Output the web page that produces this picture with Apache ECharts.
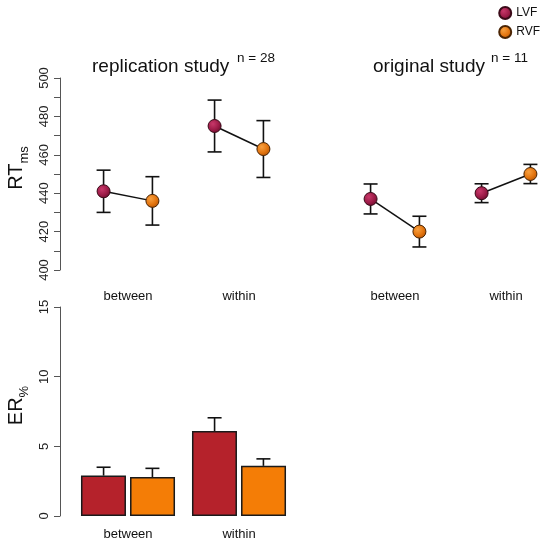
<!DOCTYPE html>
<html>
<head>
<meta charset="utf-8">
<script src="https://cdn.jsdelivr.net/npm/echarts@6/dist/echarts.min.js"></script>
<style>
html,body{margin:0;padding:0;background:#fff;}
#chart{width:540px;height:541px;}
</style>
</head>
<body>
<div id="chart"></div>
<script>
// ---- data ----
const categories = ['between', 'within'];
const conditions = ['LVF', 'RVF'];

// replication study RT (ms): means and error half-widths
const repRT_LVF = [441, 475];
const repRT_LVF_err = [11, 13.5];
const repRT_RVF = [436, 463];
const repRT_RVF_err = [12.6, 14.8];

// original study RT (ms)
const origRT_LVF = [437, 440];
const origRT_LVF_err = [7.8, 4.9];
const origRT_RVF = [420, 450];
const origRT_RVF_err = [8, 5];

// replication study error rates (%)
const repER_LVF = [2.9, 6.1];
const repER_LVF_err = [0.6, 0.95];
const repER_RVF = [2.8, 3.6];
const repER_RVF_err = [0.62, 0.5];

const rtTitles = ['replication study', 'original study'];
const rtN = ['n = 28', 'n = 11'];

// ---- styles ----
const FONT = "'Liberation Sans', Arial, Helvetica, sans-serif";
const OFF = 0.22; // fraction of category band
const lvfPoint = new echarts.graphic.RadialGradient(0.38, 0.35, 0.7, [
  {offset: 0, color: '#c8386a'}, {offset: 0.6, color: '#9c1b47'}, {offset: 1, color: '#6a0c2c'}
]);
const rvfPoint = new echarts.graphic.RadialGradient(0.38, 0.35, 0.7, [
  {offset: 0, color: '#f7a040'}, {offset: 0.6, color: '#e3740e'}, {offset: 1, color: '#b45404'}
]);
const lvfBorder = '#3a0a18';
const rvfBorder = '#4a2404';
const barLVF = '#b5222b';
const barRVF = '#f47d06';

function pointSeries(name, idx, vals, errs, sign, fill, border) {
  return {
    type: 'custom', name: name, xAxisIndex: idx, yAxisIndex: idx, z: 3,
    itemStyle: {color: fill, borderColor: border, borderWidth: 1},
    encode: {x: 0, y: 1},
    data: vals.map((v, i) => [i, v, errs[i]]),
    renderItem: function (params, api) {
      const i = api.value(0), v = api.value(1), e = api.value(2);
      const band = api.size([1, 0])[0];
      const c = api.coord([i, v]);
      const x = c[0] + sign * OFF * band;
      const top = api.coord([i, v + e])[1];
      const bot = api.coord([i, v - e])[1];
      const cap = 7;
      const ls = {stroke: '#111', lineWidth: 1.6};
      return {type: 'group', children: [
        {type: 'line', shape: {x1: x, y1: top, x2: x, y2: bot}, style: ls},
        {type: 'line', shape: {x1: x - cap, y1: top, x2: x + cap, y2: top}, style: ls},
        {type: 'line', shape: {x1: x - cap, y1: bot, x2: x + cap, y2: bot}, style: ls},
        {type: 'circle', shape: {cx: x, cy: c[1], r: 6.5}, style: {fill: fill, stroke: border, lineWidth: 1}}
      ]};
    }
  };
}

function connectSeries(idx, left, right) {
  return {
    type: 'custom', xAxisIndex: idx, yAxisIndex: idx, z: 2, silent: true,
    encode: {x: 0, y: 1},
    data: left.map((v, i) => [i, v, right[i]]),
    renderItem: function (params, api) {
      const i = api.value(0);
      const band = api.size([1, 0])[0];
      const p1 = api.coord([i, api.value(1)]);
      const p2 = api.coord([i, api.value(2)]);
      return {type: 'line', shape: {x1: p1[0] - OFF * band, y1: p1[1], x2: p2[0] + OFF * band, y2: p2[1]},
        style: {stroke: '#111', lineWidth: 1.5}};
    }
  };
}

function barErrSeries(idx, vals, errs, sign) {
  return {
    type: 'custom', xAxisIndex: idx, yAxisIndex: idx, z: 4, silent: true,
    encode: {x: 0, y: 1},
    data: vals.map((v, i) => [i, v, errs[i]]),
    renderItem: function (params, api) {
      const i = api.value(0), v = api.value(1), e = api.value(2);
      const band = api.size([1, 0])[0];
      const c = api.coord([i, v]);
      const x = c[0] + sign * OFF * band;
      const top = api.coord([i, v + e])[1];
      const cap = 7;
      const ls = {stroke: '#111', lineWidth: 1.6};
      return {type: 'group', children: [
        {type: 'line', shape: {x1: x, y1: c[1], x2: x, y2: top}, style: ls},
        {type: 'line', shape: {x1: x - cap, y1: top, x2: x + cap, y2: top}, style: ls}
      ]};
    }
  };
}

function catAxis(idx, margin) {
  return {
    type: 'category', gridIndex: idx, data: categories, boundaryGap: true,
    axisLine: {show: false}, axisTick: {show: false}, splitLine: {show: false},
    axisLabel: {fontSize: 13, color: '#111', margin: margin, fontFamily: FONT}
  };
}

function valAxis(idx, min, max, interval, labelEvery, nameMain, nameSub, show) {
  return {
    type: 'value', gridIndex: idx, min: min, max: max, interval: interval, offset: 12.5, show: show,
    axisLine: {show: true, lineStyle: {color: '#555', width: 1}},
    axisTick: {show: true, length: 6, lineStyle: {color: '#555', width: 1}},
    splitLine: {show: false},
    axisLabel: {rotate: 90, fontSize: 13, color: '#222', margin: 9, fontFamily: FONT,
      formatter: v => (Math.round(v) % labelEvery === 0 ? String(v) : '')},
    name: nameMain ? '{r|' + nameMain + '}{s|' + nameSub + '}' : '',
    nameLocation: 'middle', nameRotate: 90, nameGap: 29,
    nameTextStyle: {
      padding: [0, 0, 0, 12],
      rich: {
        r: {fontSize: 20, color: '#111', fontFamily: FONT, lineHeight: 20, verticalAlign: 'top'},
        s: {fontSize: 13, color: '#111', fontFamily: FONT, lineHeight: 25, verticalAlign: 'bottom'}
      }
    }
  };
}

const chart = echarts.init(document.getElementById('chart'), null, {renderer: 'canvas'});
chart.setOption({
  animation: false,
  backgroundColor: '#fff',
  textStyle: {fontFamily: FONT},
  title: [
    {text: rtTitles[0], left: 92, top: 57, padding: 0, textStyle: {fontSize: 19, fontWeight: 'normal', color: '#111', fontFamily: FONT}},
    {text: rtN[0], left: 237, top: 51, padding: 0, textStyle: {fontSize: 13.5, fontWeight: 'normal', color: '#111', fontFamily: FONT}},
    {text: rtTitles[1], left: 373, top: 57, padding: 0, textStyle: {fontSize: 19, fontWeight: 'normal', color: '#111', fontFamily: FONT}},
    {text: rtN[1], left: 491, top: 51, padding: 0, textStyle: {fontSize: 13.5, fontWeight: 'normal', color: '#111', fontFamily: FONT}}
  ],
  legend: {
    data: conditions, orient: 'vertical', right: 0, top: 6, icon: 'circle',
    itemWidth: 12, itemHeight: 12, itemGap: 5, padding: 0,
    textStyle: {fontSize: 12, color: '#111', fontFamily: FONT}
  },
  grid: [
    {left: 72.5, top: 78, width: 222, height: 192, outerBoundsMode: 'none', containLabel: false},
    {left: 339.5, top: 78, width: 222, height: 192, outerBoundsMode: 'none', containLabel: false},
    {left: 72.5, top: 307, width: 222, height: 209, outerBoundsMode: 'none', containLabel: false}
  ],
  xAxis: [catAxis(0, 20), catAxis(1, 20), catAxis(2, 12)],
  yAxis: [
    valAxis(0, 400, 500, 10, 20, 'RT', 'ms', true),
    valAxis(1, 400, 500, 10, 20, '', '', false),
    valAxis(2, 0, 15, 5, 5, 'ER', '%', true)
  ],
  series: [
    pointSeries('LVF', 0, repRT_LVF, repRT_LVF_err, -1, lvfPoint, lvfBorder),
    pointSeries('RVF', 0, repRT_RVF, repRT_RVF_err, 1, rvfPoint, rvfBorder),
    connectSeries(0, repRT_LVF, repRT_RVF),
    pointSeries('LVF', 1, origRT_LVF, origRT_LVF_err, -1, lvfPoint, lvfBorder),
    pointSeries('RVF', 1, origRT_RVF, origRT_RVF_err, 1, rvfPoint, rvfBorder),
    connectSeries(1, origRT_LVF, origRT_RVF),
    {type: 'bar', name: 'LVF', xAxisIndex: 2, yAxisIndex: 2, data: repER_LVF, barWidth: 45, barGap: '9%',
      itemStyle: {color: barLVF, borderColor: '#1a1a1a', borderWidth: 1.5}, z: 2},
    {type: 'bar', name: 'RVF', xAxisIndex: 2, yAxisIndex: 2, data: repER_RVF, barWidth: 45, barGap: '9%',
      itemStyle: {color: barRVF, borderColor: '#1a1a1a', borderWidth: 1.5}, z: 2},
    barErrSeries(2, repER_LVF, repER_LVF_err, -1),
    barErrSeries(2, repER_RVF, repER_RVF_err, 1)
  ]
});
</script>
</body>
</html>
